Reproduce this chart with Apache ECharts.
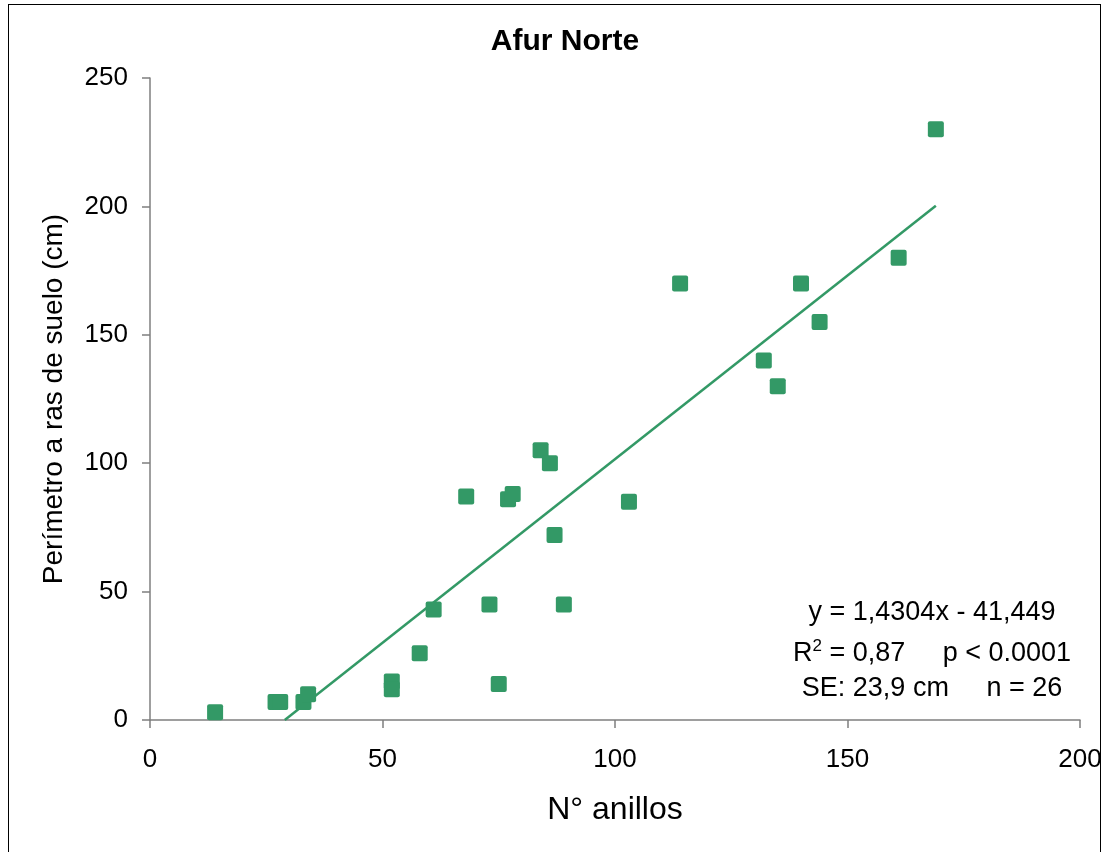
<!DOCTYPE html>
<html>
<head>
<meta charset="utf-8">
<script src="https://cdn.jsdelivr.net/npm/echarts@6/dist/echarts.min.js"></script>
<style>
html,body{margin:0;padding:0;background:#fff;}
#frame{position:absolute;left:8px;top:4px;width:1093px;height:860px;border:1px solid #000;box-sizing:border-box;}
#chart{position:absolute;left:0;top:0;width:1107px;height:852px;}
</style>
</head>
<body>
<div id="frame"></div>
<div id="chart"></div>
<script>
const titleText = "Afur Norte";
const xName = "N° anillos";
const yName = "Perímetro a ras de suelo (cm)";
const anillos = [14, 27, 28, 33, 34, 52, 52, 58, 61, 68, 73, 75, 77, 78, 84, 86, 87, 89, 103, 114, 132, 135, 140, 144, 161, 169];
const perimetro = [3, 7, 7, 7, 10, 15, 12, 26, 43, 87, 45, 14, 86, 88, 105, 100, 72, 45, 85, 170, 140, 130, 170, 155, 180, 230];
const slope = 1.4304;
const intercept = -41.449;
const trendX = [28.98, 169];
const eqLine1 = "y = 1,4304x - 41,449";
const eqLine2a = "R";
const eqLine2sup = "2";
const eqLine2b = " = 0,87     p < 0.0001";
const eqLine3 = "SE: 23,9 cm     n = 26";

const pts = anillos.map((x, i) => [x, perimetro[i]]);
const trend = trendX.map(x => [x, slope * x + intercept]);
const green = '#339966';
const font = 'Liberation Sans, Arial, sans-serif';
const squareSym = 'path://M2,0H14Q16,0 16,2V14Q16,16 14,16H2Q0,16 0,14V2Q0,0 2,0Z';

const chart = echarts.init(document.getElementById('chart'), null, {renderer: 'canvas'});
chart.setOption({
  animation: false,
  backgroundColor: 'transparent',
  graphic: [
    {
      type: 'text', x: 565, y: 27,
      style: {text: titleText, fontFamily: font, fontSize: 30, fontWeight: 'bold', fill: '#000', align: 'center', verticalAlign: 'top'}
    },
    {
      type: 'text', x: 932, y: 599,
      style: {text: eqLine1, fontFamily: font, fontSize: 27, fill: '#000', align: 'center', verticalAlign: 'top'}
    },
    {
      type: 'text', x: 932, y: 638,
      style: {
        text: '{a|' + eqLine2a + '}{s|' + eqLine2sup + '}{a|' + eqLine2b + '}',
        align: 'center', verticalAlign: 'top',
        rich: {
          a: {fontFamily: font, fontSize: 27, color: '#000', verticalAlign: 'bottom'},
          s: {fontFamily: font, fontSize: 17, color: '#000', verticalAlign: 'top', padding: [0, 0, 12, 0]}
        }
      }
    },
    {
      type: 'text', x: 932, y: 675,
      style: {text: eqLine3, fontFamily: font, fontSize: 27, fill: '#000', align: 'center', verticalAlign: 'top'}
    }
  ],
  grid: {left: 150, right: 27, top: 78, bottom: 132},
  xAxis: {
    type: 'value', min: 0, max: 200, interval: 50,
    name: xName, nameLocation: 'middle', nameGap: 74,
    nameTextStyle: {fontFamily: font, fontSize: 32, color: '#000'},
    axisLine: {show: true, onZero: false, lineStyle: {color: '#7f7f7f', width: 1.5}},
    axisTick: {show: true, inside: false, length: 8, lineStyle: {color: '#7f7f7f', width: 1.5}},
    axisLabel: {fontFamily: font, fontSize: 26, color: '#000', margin: 27},
    splitLine: {show: false}
  },
  yAxis: {
    type: 'value', min: 0, max: 250, interval: 50,
    name: yName, nameLocation: 'middle', nameGap: 82,
    nameTextStyle: {fontFamily: font, fontSize: 28, color: '#000'},
    axisLine: {show: true, lineStyle: {color: '#7f7f7f', width: 1.5}},
    axisTick: {show: true, inside: false, length: 8, lineStyle: {color: '#7f7f7f', width: 1.5}},
    axisLabel: {fontFamily: font, fontSize: 26, color: '#000', margin: 22},
    splitLine: {show: false}
  },
  series: [
    {
      type: 'line', data: trend, symbol: 'none', silent: true,
      lineStyle: {color: green, width: 2.5}, z: 2
    },
    {
      type: 'scatter', data: pts, symbol: squareSym, symbolSize: 16,
      itemStyle: {color: green, opacity: 1}, z: 3
    }
  ]
});
</script>
</body>
</html>
